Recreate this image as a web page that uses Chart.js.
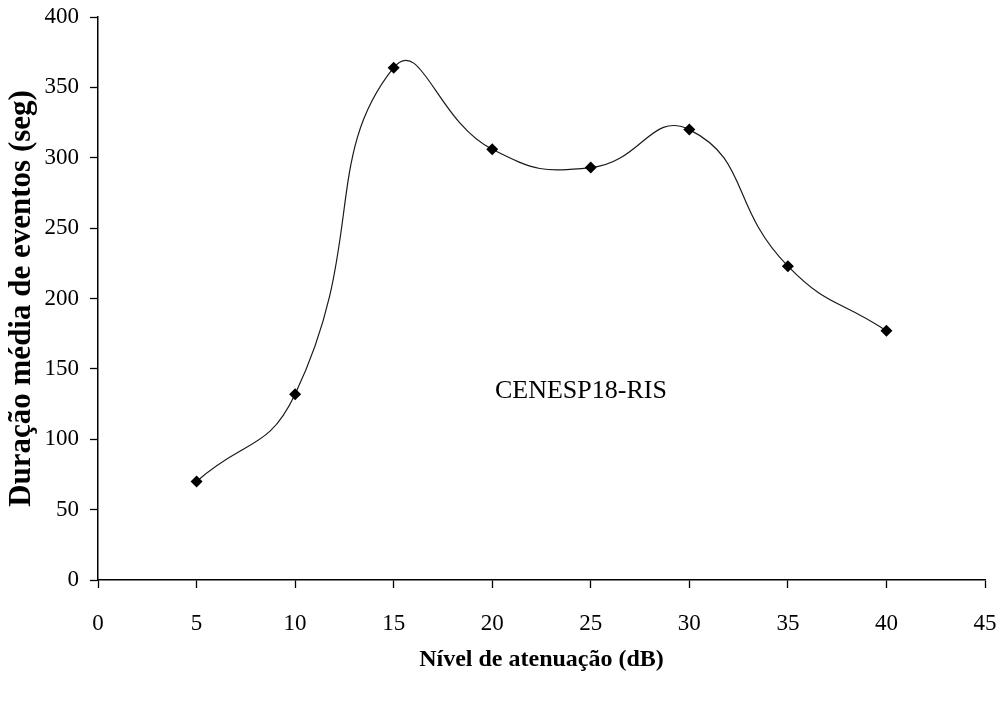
<!DOCTYPE html>
<html>
<head>
<meta charset="utf-8">
<title>Duração média de eventos</title>
<script src="https://cdn.jsdelivr.net/npm/chart.js@4.4.1/dist/chart.umd.min.js"></script>
<style>
  html, body { margin: 0; padding: 0; background: #ffffff; }
  #wrap { width: 997px; height: 701px; }
</style>
</head>
<body>
<div id="wrap"><canvas id="c" width="997" height="701"></canvas></div>
<script>
// Attenuation level (dB) and mean event duration (s)
const attenuation = [5, 10, 15, 20, 25, 30, 35, 40];
const meanDuration = [70, 132, 364, 306, 293, 320, 223, 177];

// Axis ranges and tick spacing
const xTicks = [0, 5, 10, 15, 20, 25, 30, 35, 40, 45];
const yTicks = [0, 50, 100, 150, 200, 250, 300, 350, 400];

// Series label placed inside the plot, in data units
const seriesLabel = 'CENESP18-RIS';
const seriesLabelAt = { x: 24.5, y: 134 };

const SERIF = '"Liberation Serif", "Times New Roman", Times, serif';

const points = attenuation.map((x, i) => ({ x: x, y: meanDuration[i] }));

const labelPlugin = {
  id: 'seriesLabel',
  afterDatasetsDraw(chart) {
    const { ctx, scales } = chart;
    const px = scales.x.getPixelForValue(seriesLabelAt.x);
    const py = scales.y.getPixelForValue(seriesLabelAt.y);
    ctx.save();
    ctx.font = '26px ' + SERIF;
    ctx.fillStyle = '#000';
    ctx.textAlign = 'center';
    ctx.textBaseline = 'middle';
    ctx.fillText(seriesLabel, px, py);
    ctx.restore();
  }
};

// Keep tick labels from shrinking the plot area
function noLabelPadding(scale) {
  scale.paddingLeft = 0;
  scale.paddingRight = 0;
  scale.paddingTop = 0;
  scale.paddingBottom = 0;
}

new Chart(document.getElementById('c'), {
  type: 'line',
  data: {
    datasets: [{
      data: points,
      borderColor: '#1a1a1a',
      borderWidth: 1.2,
      backgroundColor: '#000',
      pointStyle: 'rectRot',
      pointRadius: 6,
      pointBackgroundColor: '#000',
      pointBorderColor: '#000',
      pointBorderWidth: 0,
      tension: 0.5,
      fill: false
    }]
  },
  options: {
    responsive: false,
    animation: false,
    layout: { padding: { top: 17, right: 12, left: 0, bottom: 0 } },
    plugins: {
      legend: { display: false },
      tooltip: { enabled: false }
    },
    scales: {
      x: {
        type: 'linear',
        min: xTicks[0],
        max: xTicks[xTicks.length - 1],
        afterBuildTicks(scale) { scale.ticks = xTicks.map(v => ({ value: v })); },
        afterFit(scale) { scale.height = 121; noLabelPadding(scale); },
        grid: { drawOnChartArea: false, tickLength: 8, color: '#000', tickWidth: 1.3 },
        border: { color: '#000', width: 1.5 },
        ticks: { color: '#000', padding: 22, maxRotation: 0, font: { family: SERIF, size: 23 } },
        title: {
          display: true,
          text: 'Nível de atenuação (dB)',
          color: '#000',
          padding: { top: 0, bottom: 27 },
          font: { family: SERIF, size: 24, weight: 'bold' }
        }
      },
      y: {
        type: 'linear',
        min: yTicks[0],
        max: yTicks[yTicks.length - 1],
        afterBuildTicks(scale) { scale.ticks = yTicks.map(v => ({ value: v })); },
        afterFit(scale) { scale.width = 98; noLabelPadding(scale); },
        grid: { drawOnChartArea: false, tickLength: 8, color: '#000', tickWidth: 1.3 },
        border: { color: '#000', width: 1.5 },
        ticks: { color: '#000', padding: 11, font: { family: SERIF, size: 23 } },
        title: {
          display: true,
          text: 'Duração média de eventos (seg)',
          color: '#000',
          padding: { top: 3, bottom: 0 },
          font: { family: SERIF, size: 31, weight: 'bold' }
        }
      }
    }
  },
  plugins: [labelPlugin]
});
</script>
</body>
</html>
